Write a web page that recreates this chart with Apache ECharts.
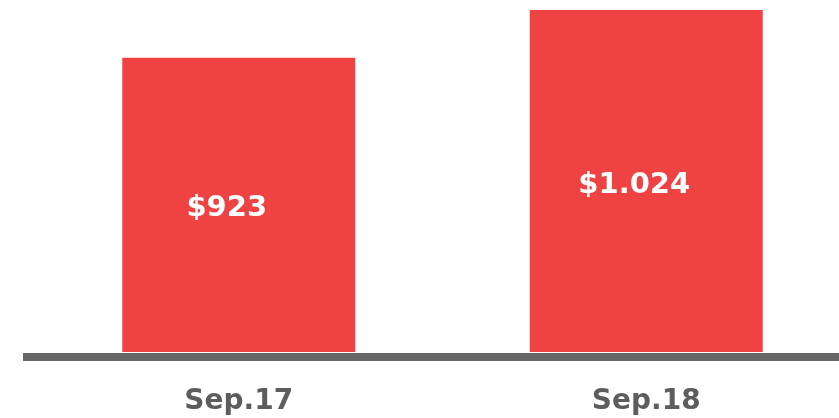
<!DOCTYPE html>
<html>
<head>
<meta charset="utf-8">
<script src="https://cdn.jsdelivr.net/npm/echarts@6/dist/echarts.min.js"></script>
<style>
  html, body { margin: 0; padding: 0; background: #fff; }
</style>
</head>
<body>
<div id="chart" style="width: 839px;height:418px;"></div>
<script>
var categories = ['Sep.17', 'Sep.18'];
var values = [923, 1024];
var valueLabels = ['$923', '$1.024'];

var chart = echarts.init(document.getElementById('chart'));

var option = {
  animation: false,
  grid: [
    // bars (the second band runs past the right edge)
    { left: 35, width: 815, top: 10, bottom: 66, outerBoundsMode: 'none' },
    // baseline only
    { left: 23, right: 0, top: 10, bottom: 61.5, outerBoundsMode: 'none' }
  ],
  xAxis: [
    {
      type: 'category',
      gridIndex: 0,
      data: categories,
      axisLine: { show: false },
      axisTick: { show: false },
      axisLabel: {
        margin: 36,
        color: '#5d5d5d',
        fontFamily: 'DejaVu Sans',
        fontWeight: 'bold',
        fontSize: 28
      }
    },
    {
      type: 'category',
      gridIndex: 1,
      data: [''],
      axisLine: { lineStyle: { color: '#676767', width: 8, cap: 'butt' } },
      axisTick: { show: false },
      axisLabel: { show: false }
    }
  ],
  yAxis: [
    { type: 'value', gridIndex: 0, min: 300, max: 1024, show: false },
    { type: 'value', gridIndex: 1, show: false }
  ],
  series: [
    {
      type: 'bar',
      xAxisIndex: 0,
      yAxisIndex: 0,
      barWidth: 233,
      itemStyle: { color: '#ee4243' },
      label: {
        show: true,
        position: 'inside',
        offset: [-12, 4],
        color: '#fff',
        fontFamily: 'DejaVu Sans',
        fontWeight: 'bold',
        fontSize: 29,
        formatter: function (p) { return valueLabels[p.dataIndex]; }
      },
      data: values
    }
  ]
};

chart.setOption(option);
</script>
</body>
</html>
